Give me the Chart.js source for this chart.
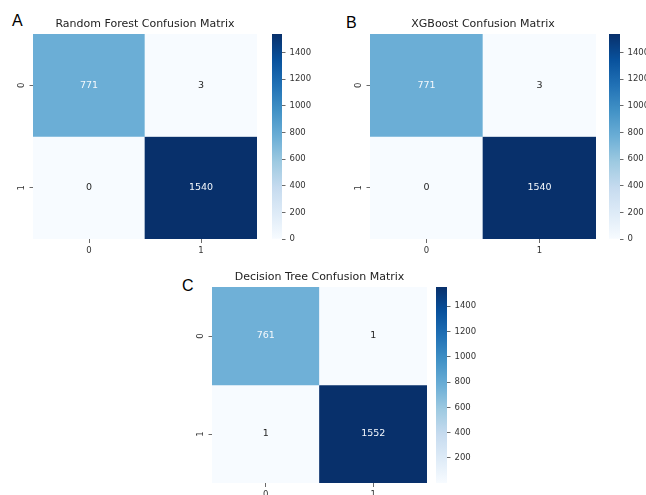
<!DOCTYPE html>
<html><head><meta charset="utf-8">
<script src="https://cdn.jsdelivr.net/npm/chart.js@4.4.1/dist/chart.umd.min.js"></script>
<style>
html,body{margin:0;padding:0;background:#fff;}
body{width:646px;height:495px;overflow:hidden;position:relative;}
canvas{position:absolute;}
.lbl{position:absolute;font-family:"Liberation Sans",Arial,sans-serif;font-size:16px;color:#000;line-height:16px;}
</style></head><body>
<div class="lbl" style="left:12px;top:13px">A</div>
<div class="lbl" style="left:346px;top:15px">B</div>
<div class="lbl" style="left:182px;top:278px">C</div>
<canvas id="hA"></canvas><canvas id="cA"></canvas>
<canvas id="hB"></canvas><canvas id="cB"></canvas>
<canvas id="hC"></canvas><canvas id="cC"></canvas>
<script>
// ---- data ----
const classLabels = ['0', '1'];
const rfMatrix = [[771, 3], [0, 1540]];
const xgbMatrix = [[771, 3], [0, 1540]];
const dtMatrix = [[761, 1], [1, 1552]];
const rfTitle = 'Random Forest Confusion Matrix';
const xgbTitle = 'XGBoost Confusion Matrix';
const dtTitle = 'Decision Tree Confusion Matrix';
const rfColorbarTicks = [0, 200, 400, 600, 800, 1000, 1200, 1400];
const xgbColorbarTicks = [0, 200, 400, 600, 800, 1000, 1200, 1400];
const dtColorbarTicks = [200, 400, 600, 800, 1000, 1200, 1400];

// ---- Blues colormap ----
const BLUES = ['#f7fbff','#deebf7','#c6dbef','#9ecae1','#6baed6','#4292c6','#2171b5','#08519c','#08306b'];
function hex2rgb(h){return [parseInt(h.slice(1,3),16),parseInt(h.slice(3,5),16),parseInt(h.slice(5,7),16)];}
function blues(t){
  t = Math.max(0, Math.min(1, t));
  const n = BLUES.length - 1, p = t * n, i = Math.min(Math.floor(p), n - 1), f = p - i;
  const a = hex2rgb(BLUES[i]), b = hex2rgb(BLUES[i + 1]);
  const c = a.map((v, k) => Math.round(v + (b[k] - v) * f));
  return 'rgb(' + c.join(',') + ')';
}
function lum(t){
  const s = blues(t).match(/\d+/g).map(Number).map(v => { v /= 255; return v <= 0.03928 ? v / 12.92 : Math.pow((v + 0.055) / 1.055, 2.4); });
  return 0.2126 * s[0] + 0.7152 * s[1] + 0.0722 * s[2];
}

const FONT = '"DejaVu Sans", sans-serif';
const M = 40, MB = 30;
const TICK_FONT = { family: FONT, size: 8.5 };

const annotate = {
  id: 'annotate',
  afterDatasetsDraw(chart) {
    const ctx = chart.ctx;
    ctx.save();
    ctx.font = '9.5px ' + FONT;
    ctx.textAlign = 'center';
    ctx.textBaseline = 'middle';
    chart.data.datasets.forEach((ds, di) => {
      chart.getDatasetMeta(di).data.forEach((el, i) => {
        const t = ds.norms[i];
        ctx.fillStyle = lum(t) > 0.408 ? '#262626' : '#f4f8fc';
        ctx.fillText(String(ds.cellValues[i]), el.x, (el.y + el.base) / 2);
      });
    });
    ctx.restore();
  }
};

function place(cv, l, t, w, h){
  cv.width = w; cv.height = h;
  cv.style.left = l + 'px'; cv.style.top = t + 'px';
  cv.style.width = w + 'px'; cv.style.height = h + 'px';
}

function makeHeatmap(id, matrix, title, rect, titleY){
  const cv = document.getElementById(id);
  const W = rect.w + 2 * M, H = rect.h + M + MB;
  place(cv, rect.l - M, rect.t - M, W, H);
  const flat = matrix.flat();
  const vmin = Math.min(...flat), vmax = Math.max(...flat);
  const lh = 11 * 1.2;
  const padTop = (titleY - (rect.t - M)) - lh / 2;
  const datasets = matrix.map((row, r) => ({
    data: row.map(() => [r, r + 1]),
    cellValues: row,
    norms: row.map(v => (v - vmin) / (vmax - vmin)),
    backgroundColor: row.map(v => blues((v - vmin) / (vmax - vmin))),
    borderWidth: 0,
    barPercentage: 1,
    categoryPercentage: 1,
    grouped: false
  }));
  new Chart(cv, {
    type: 'bar',
    data: { labels: classLabels, datasets },
    plugins: [annotate],
    options: {
      responsive: false, animation: false,
      layout: { padding: { left: 0, right: M, top: 0, bottom: 0 } },
      plugins: {
        legend: { display: false }, tooltip: { enabled: false },
        title: { display: true, text: title, fullSize: false, color: '#222',
                 font: { family: FONT, size: 11, weight: 'normal', lineHeight: 1.2 },
                 padding: { top: padTop, bottom: M - padTop - lh } }
      },
      scales: {
        x: {
          type: 'category', offset: true,
          grid: { display: true, offset: false, drawOnChartArea: false, drawTicks: true, tickLength: 4, tickColor: '#444', tickWidth: 0.8 },
          border: { display: false },
          ticks: { color: '#333', font: TICK_FONT, padding: 3, maxRotation: 0 },
          afterFit(s){ s.height = MB; }
        },
        y: {
          type: 'linear', min: 0, max: matrix.length, reverse: true,
          grid: { display: true, drawOnChartArea: false, drawTicks: true, tickLength: 3.5, tickColor: '#444', tickWidth: 0.8 },
          border: { display: false },
          afterBuildTicks(s){ s.ticks = classLabels.map((_, i) => ({ value: i + 0.5 })); },
          ticks: { color: '#333', font: TICK_FONT, padding: 4.5, minRotation: 90, maxRotation: 90,
                   crossAlign: 'center', callback: (v) => classLabels[Math.floor(v)] },
          afterFit(s){ s.width = M; }
        }
      }
    }
  });
}

function makeColorbar(id, matrix, ticks, rect, cb){
  const cv = document.getElementById(id);
  const P = 10, R = 40;
  place(cv, cb.l - P, rect.t - P, cb.w + P + R, rect.h + 2 * P);
  const flat = matrix.flat();
  const vmin = Math.min(...flat), vmax = Math.max(...flat);
  new Chart(cv, {
    type: 'bar',
    data: { labels: [''], datasets: [{
      data: [[vmin, vmax]],
      borderWidth: 0, barPercentage: 1, categoryPercentage: 1,
      backgroundColor(ctx){
        const ca = ctx.chart.chartArea;
        if (!ca) return blues(0.5);
        const g = ctx.chart.ctx.createLinearGradient(0, ca.bottom, 0, ca.top);
        BLUES.forEach((c, i) => g.addColorStop(i / (BLUES.length - 1), c));
        return g;
      }
    }]},
    options: {
      responsive: false, animation: false,
      layout: { padding: { left: P, right: 0, top: P, bottom: P } },
      plugins: { legend: { display: false }, tooltip: { enabled: false } },
      scales: {
        x: { display: false, offset: true },
        y: {
          position: 'right', min: vmin, max: vmax,
          grid: { display: true, drawOnChartArea: false, drawTicks: true, tickLength: 3.5, tickColor: '#444', tickWidth: 0.8 },
          border: { display: false },
          afterBuildTicks(s){ s.ticks = ticks.map(v => ({ value: v })); },
          ticks: { color: '#333', font: TICK_FONT, padding: 4, callback: (v) => String(v) },
          afterFit(s){ s.width = R; }
        }
      }
    }
  });
}

const rectA = { l: 33, t: 34, w: 224, h: 205 };
const rectB = { l: 370, t: 34, w: 226, h: 205 };
const rectC = { l: 212, t: 287, w: 215, h: 196 };
makeHeatmap('hA', rfMatrix, rfTitle, rectA, 24);
makeHeatmap('hB', xgbMatrix, xgbTitle, rectB, 24);
makeHeatmap('hC', dtMatrix, dtTitle, rectC, 277);
makeColorbar('cA', rfMatrix, rfColorbarTicks, rectA, { l: 272, w: 10 });
makeColorbar('cB', xgbMatrix, xgbColorbarTicks, rectB, { l: 609, w: 11 });
makeColorbar('cC', dtMatrix, dtColorbarTicks, rectC, { l: 436, w: 11 });
</script>
</body></html>
